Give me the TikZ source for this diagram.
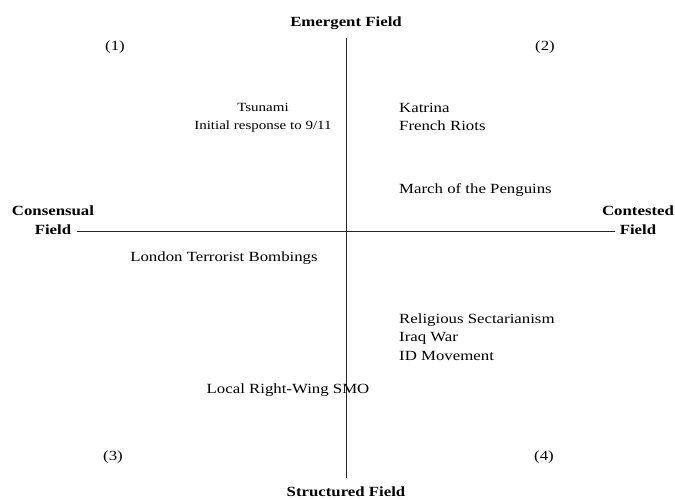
\documentclass[tikz,border=0pt]{standalone}
\usepackage{fontspec}
\setmainfont[FakeStretch=1.2]{Liberation Serif}
\usetikzlibrary{positioning}
\begin{document}
\begin{tikzpicture}[x=1pt,y=-1pt,font=\fontsize{14}{17}\selectfont,
  axislabel/.style={font=\fontsize{14}{19.5}\selectfont\bfseries,align=center,inner sep=0pt},
  event/.style={anchor=west,inner sep=0pt,align=left},
  axis/.style={line width=0.8pt,draw=black!85}]
\useasboundingbox (0,0) rectangle (675,500);
% axes
\coordinate (top) at (346,38);
\coordinate (bottom) at (346,478);
\coordinate (left) at (77,231);
\coordinate (right) at (615,231);
\draw[axis] (top) -- (bottom);%縦軸
\draw[axis] (left) -- (right);%横軸
% axis labels
\node[axislabel] (emergent) at (346,23) {Emergent Field};
\node[axislabel] (structured) at (346,492) {Structured Field};
\node[axislabel] (consensual) at (53,220) {Consensual\\Field};
\node[axislabel] (contested) at (638,220) {Contested\\Field};
% quadrant numbers
\foreach \x/\y/\n in {115/47/1, 545/47/2, 113/457/3, 544/457/4}
  \node (q\n) at (\x,\y) {(\n)};
% cases
\node[align=center,inner sep=0pt,font=\fontsize{12.5}{18}\selectfont] (tsunami) at (263,118) {Tsunami\\Initial response to 9/11};
\node[event,font=\fontsize{14}{18}\selectfont] (katrina) at (399,117) {Katrina\\French Riots};
\node[event] (penguins) at (399,190) {March of the Penguins};
\node[inner sep=0pt] (london) at (224,258) {London Terrorist Bombings};
\node[event,font=\fontsize{14}{18.5}\selectfont] (religious) at (399,337) {Religious Sectarianism\\Iraq War\\ID Movement};
\node[inner sep=0pt] (smo) at (288,390) {Local Right-Wing SMO};
\end{tikzpicture}
\end{document}
